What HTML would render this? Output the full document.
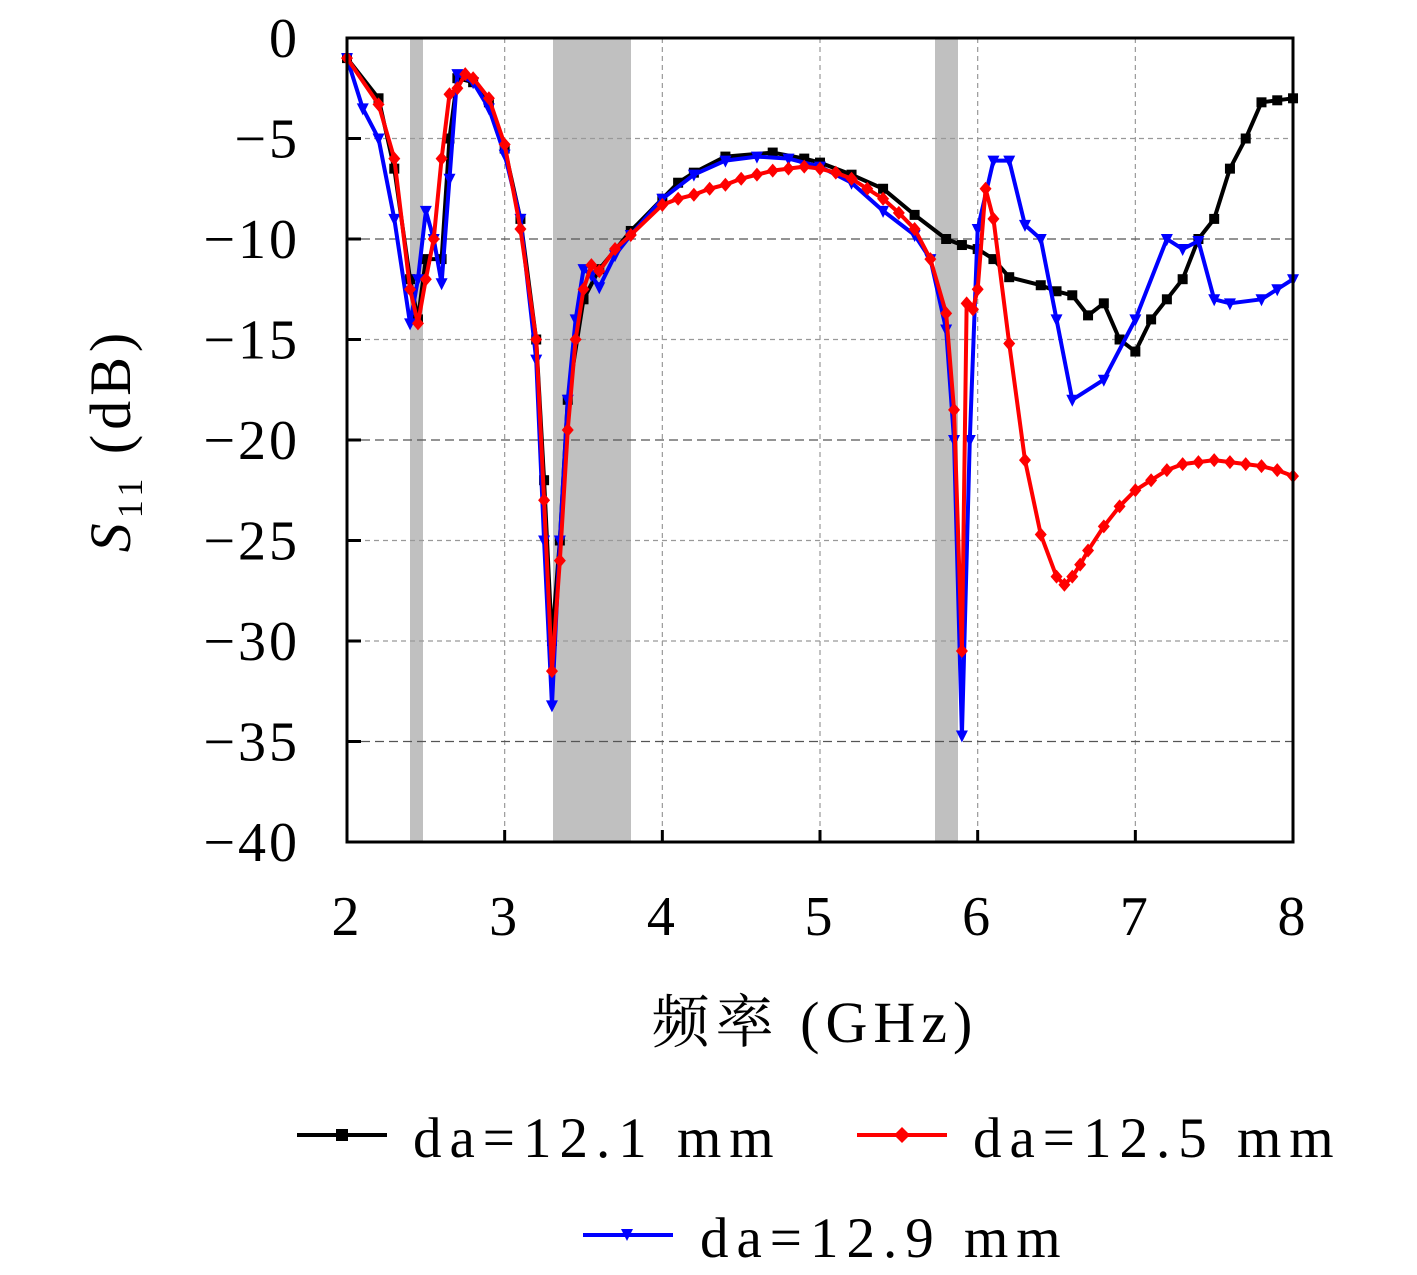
<!DOCTYPE html>
<html><head><meta charset="utf-8"><style>
body{margin:0;background:#fff;width:1417px;height:1275px;overflow:hidden}
svg{display:block}
text{font-family:"Liberation Serif","Noto Serif CJK SC",serif;fill:#000}
</style></head><body>
<svg id="s" width="1417" height="1275" xmlns="http://www.w3.org/2000/svg">
<rect x="410" y="38" width="13" height="804" fill="#c0c0c0"/>
<rect x="553" y="38" width="78" height="804" fill="#c0c0c0"/>
<rect x="935" y="38" width="23" height="804" fill="#c0c0c0"/>
<g id="grid" stroke="#999" stroke-width="1.2" stroke-dasharray="5,4"></g>
<g id="series" fill="none" stroke-width="4" stroke-linejoin="round"></g>
<rect x="347" y="38" width="946" height="804" fill="none" stroke="#000" stroke-width="3"/>
<g id="ticks" stroke="#000" stroke-width="3"></g>
<g id="labels" font-size="56" letter-spacing="3"></g>
<text x="130" y="440" font-size="58" letter-spacing="5" transform="rotate(-90 130 440)" text-anchor="middle"><tspan font-style="italic">S</tspan><tspan font-size="36" dy="12">11</tspan><tspan dy="-12"> (dB)</tspan></text>
<text x="815" y="1042" font-size="58" letter-spacing="6" text-anchor="middle">频率 (GHz)</text>
<g font-size="57" letter-spacing="8">
<line x1="297" y1="1135" x2="387" y2="1135" stroke="#000" stroke-width="4"/><rect x="336" y="1129" width="12" height="12" fill="#000"/>
<text x="413" y="1157">da=12.1 mm</text>
<line x1="857" y1="1135" x2="947" y2="1135" stroke="#f00" stroke-width="4"/><path d="M902 1127 L910 1135 L902 1143 L894 1135Z" fill="#f00"/>
<text x="973" y="1157">da=12.5 mm</text>
<line x1="583" y1="1235" x2="673" y2="1235" stroke="#00f" stroke-width="4"/><path d="M621 1229 L633 1229 L627 1241Z" fill="#00f"/>
<text x="700" y="1257">da=12.9 mm</text>
</g>
</svg>
<script>
const NS="http://www.w3.org/2000/svg";
const X=f=>347+157.67*(f-2), Y=d=>38-20.1*d;
function el(p,t,a){const e=document.createElementNS(NS,t);for(const k in a)e.setAttribute(k,a[k]);p.appendChild(e);return e;}
const g=document.getElementById('grid'),tk=document.getElementById('ticks'),lb=document.getElementById('labels');
for(let f=3;f<=7;f++)el(g,'line',{x1:X(f),y1:38,x2:X(f),y2:842});
for(let d=-5;d>=-35;d-=5){const a={x1:347,y1:Y(d),x2:1293,y2:Y(d)};if(d==-10||d==-20||d==-35){a.stroke='#555';a['stroke-dasharray']='9,5';}el(g,'line',a);}
for(let f=2;f<=8;f++){el(tk,'line',{x1:X(f),y1:842,x2:X(f),y2:830});const t=el(lb,'text',{x:X(f),y:935,'text-anchor':'middle'});t.textContent=f;}
for(let d=0;d>=-40;d-=5){el(tk,'line',{x1:347,y1:Y(d),x2:361,y2:Y(d)});const t=el(lb,'text',{x:300,y:Y(d)+19,'text-anchor':'end'});t.textContent=d==0?'0':'\u2212'+(-d);}
const B=[[2,-1],[2.2,-3],[2.3,-6.5],[2.4,-12],[2.45,-14],[2.5,-11],[2.6,-11],[2.65,-5],[2.7,-2],[2.8,-2.2],[2.9,-3.2],[3,-5.5],[3.1,-9],[3.2,-15],[3.25,-22],[3.3,-30],[3.35,-25],[3.4,-18],[3.5,-13],[3.6,-11.5],[3.8,-9.6],[4,-8],[4.1,-7.2],[4.2,-6.7],[4.4,-5.9],[4.7,-5.7],[4.9,-6],[5,-6.2],[5.2,-6.8],[5.4,-7.5],[5.6,-8.8],[5.8,-10],[5.9,-10.3],[6,-10.5],[6.1,-11],[6.2,-11.9],[6.4,-12.3],[6.5,-12.6],[6.6,-12.8],[6.7,-13.8],[6.8,-13.2],[6.9,-15],[7,-15.6],[7.1,-14],[7.2,-13],[7.3,-12],[7.4,-10],[7.5,-9],[7.6,-6.5],[7.7,-5],[7.8,-3.2],[7.9,-3.1],[8,-3]];
const R=[[2,-1],[2.2,-3.3],[2.3,-6],[2.4,-12.5],[2.45,-14.2],[2.5,-12],[2.55,-10],[2.6,-6],[2.65,-2.8],[2.7,-2.5],[2.75,-1.8],[2.8,-2],[2.9,-3],[3,-5.3],[3.1,-9.5],[3.2,-15],[3.25,-23],[3.3,-31.5],[3.35,-26],[3.4,-19.5],[3.45,-15],[3.5,-12.5],[3.55,-11.3],[3.6,-11.6],[3.7,-10.5],[3.8,-9.8],[4,-8.3],[4.1,-8],[4.2,-7.8],[4.3,-7.5],[4.4,-7.3],[4.5,-7],[4.6,-6.8],[4.7,-6.6],[4.8,-6.5],[4.9,-6.4],[5,-6.5],[5.1,-6.7],[5.2,-7],[5.3,-7.5],[5.4,-8],[5.5,-8.7],[5.6,-9.5],[5.7,-11],[5.8,-13.7],[5.85,-18.5],[5.9,-30.5],[5.93,-13.2],[5.97,-13.5],[6,-12.5],[6.05,-7.5],[6.1,-9],[6.2,-15.2],[6.3,-21],[6.4,-24.7],[6.5,-26.8],[6.55,-27.2],[6.6,-26.8],[6.65,-26.2],[6.7,-25.5],[6.8,-24.3],[6.9,-23.3],[7,-22.5],[7.1,-22],[7.2,-21.5],[7.3,-21.2],[7.4,-21.1],[7.5,-21],[7.6,-21.1],[7.7,-21.2],[7.8,-21.3],[7.9,-21.5],[8,-21.8]];
const U=[[2,-1],[2.1,-3.5],[2.2,-5],[2.3,-9],[2.4,-14.2],[2.45,-12],[2.5,-8.6],[2.55,-10],[2.6,-12.2],[2.65,-7],[2.7,-1.8],[2.8,-2.2],[2.9,-3.5],[3,-5.8],[3.1,-9],[3.2,-16],[3.25,-25],[3.3,-33.2],[3.35,-25],[3.4,-18],[3.45,-14],[3.5,-11.5],[3.55,-11.8],[3.6,-12.4],[3.7,-10.8],[3.8,-9.8],[4,-8],[4.2,-6.8],[4.4,-6.1],[4.6,-5.9],[4.8,-6],[5,-6.4],[5.2,-7.2],[5.4,-8.6],[5.6,-9.8],[5.7,-11],[5.8,-14.5],[5.85,-20],[5.9,-34.7],[5.95,-20],[6,-9.5],[6.1,-6.1],[6.2,-6.1],[6.3,-9.3],[6.4,-10],[6.5,-14],[6.6,-18],[6.8,-17],[7,-14],[7.2,-10],[7.3,-10.5],[7.4,-10.1],[7.5,-13],[7.6,-13.2],[7.8,-13],[7.9,-12.5],[8,-12]];
const S=document.getElementById('series');
function draw(d,c,m){el(S,'polyline',{points:d.map(p=>X(p[0])+','+Y(p[1])).join(' '),stroke:c});
 d.forEach(p=>{const x=X(p[0]),y=Y(p[1]);
  if(m=='s')el(S,'rect',{x:x-5,y:y-5,width:10,height:10,fill:c,stroke:'none'});
  else if(m=='d')el(S,'path',{d:`M${x} ${y-7}L${x+6} ${y}L${x} ${y+7}L${x-6} ${y}Z`,fill:c,stroke:'none'});
  else el(S,'path',{d:`M${x-6} ${y-5}L${x+6} ${y-5}L${x} ${y+7}Z`,fill:c,stroke:'none'});});}
draw(B,'#000','s');draw(U,'#00f','t');draw(R,'#f00','d');
</script>
</body></html>
